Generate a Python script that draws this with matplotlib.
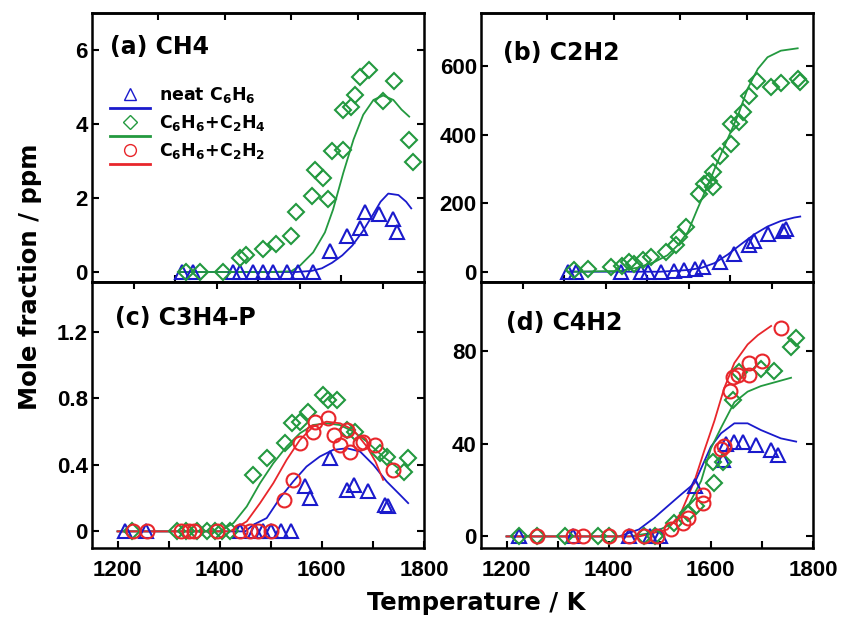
import matplotlib
matplotlib.use('Agg')
import matplotlib.pyplot as plt
from matplotlib.legend_handler import HandlerBase
from matplotlib.lines import Line2D

plt.rcParams['font.family'] = ['Liberation Sans', 'DejaVu Sans']
plt.rcParams['font.weight'] = 'bold'
plt.rcParams['mathtext.fontset'] = 'custom'
plt.rcParams['mathtext.rm'] = 'DejaVu Sans:bold'
plt.rcParams['mathtext.it'] = 'DejaVu Sans:bold'
plt.rcParams['mathtext.bf'] = 'DejaVu Sans:bold'
WIDE = ['DejaVu Sans']   # titles / legend / axis labels are a wide bold face

# ---- data (T in K, mole fraction in ppm) ----
# (a) CH4
a_neat_T = [1326, 1348, 1427, 1440, 1466, 1485, 1505, 1531, 1554, 1583, 1616, 1649, 1675, 1685, 1711, 1740, 1747]
a_neat_y = [0, 0, 0, 0, 0, 0, 0, 0, 0, 0, 0.57, 0.98, 1.2, 1.63, 1.56, 1.43, 1.07]
a_c2h4_T = [1335, 1361, 1406, 1440, 1452, 1485, 1510, 1540, 1549, 1580, 1587, 1602, 1613, 1619, 1642, 1642,
            1658, 1665, 1675, 1692, 1720, 1742, 1771, 1778]
a_c2h4_y = [0, 0, 0, 0.39, 0.46, 0.62, 0.77, 0.98, 1.61, 2.05, 2.76, 2.54, 1.96, 3.26, 3.31, 4.39,
            4.47, 4.79, 5.28, 5.46, 4.61, 5.17, 3.58, 2.97]
a_neat_mT = [1320, 1550, 1580, 1600, 1620, 1640, 1660, 1680, 1700, 1715, 1730, 1750, 1765, 1775]
a_neat_my = [0, 0, 0.03, 0.1, 0.25, 0.45, 0.72, 1.1, 1.55, 1.9, 2.12, 2.08, 1.9, 1.72]
a_c2h4_mT = [1320, 1500, 1540, 1557, 1583, 1606, 1622, 1642, 1662, 1681, 1701, 1720, 1740, 1756, 1771]
a_c2h4_my = [0, 0, 0.02, 0.17, 0.53, 1.07, 1.69, 2.68, 3.58, 4.25, 4.65, 4.77, 4.65, 4.39, 4.2]

# (b) C2H2
b_neat_T = [1320, 1336, 1424, 1463, 1476, 1502, 1528, 1548, 1568, 1584, 1617, 1646, 1675, 1685, 1711, 1741, 1747]
b_neat_y = [0, 0, 0, 0, 0, 0, 2, 4, 8, 13, 28, 52, 77, 91, 111, 120, 125]
b_c2h4_T = [1333, 1359, 1405, 1427, 1440, 1450, 1467, 1483, 1512, 1532, 1538, 1551, 1577, 1587, 1597, 1604,
            1604, 1618, 1640, 1640, 1656, 1662, 1675, 1690, 1718, 1737, 1770, 1775]
b_c2h4_y = [4, 9, 14, 18, 28, 23, 33, 43, 57, 77, 101, 130, 227, 256, 266, 247,
            290, 339, 373, 431, 436, 465, 514, 557, 538, 552, 562, 554]
b_neat_mT = [1320, 1500, 1555, 1581, 1607, 1633, 1659, 1685, 1711, 1737, 1763, 1775]
b_neat_my = [0, 0, 5, 11, 25, 50, 80, 109, 132, 148, 158, 161]
b_c2h4_mT = [1320, 1420, 1457, 1489, 1515, 1535, 1555, 1574, 1594, 1613, 1633, 1653, 1672, 1692, 1711, 1737, 1770]
b_c2h4_my = [0, 2, 12, 28, 48, 77, 116, 184, 252, 320, 388, 456, 534, 592, 626, 645, 652]

# (c) C3H4-P
c_neat_T = [1215, 1255, 1440, 1470, 1485, 1500, 1520, 1540, 1567, 1577, 1616, 1649, 1662, 1691, 1724, 1730]
c_neat_y = [0, 0, 0, 0, 0, 0, 0, 0, 0.27, 0.2, 0.44, 0.25, 0.28, 0.24, 0.16, 0.15]
c_c2h4_T = [1228, 1316, 1335, 1355, 1375, 1390, 1405, 1420, 1466, 1492, 1528, 1541, 1557, 1573,
            1603, 1613, 1629, 1649, 1665, 1714, 1727, 1760, 1769]
c_c2h4_y = [0, 0, 0, 0, 0, 0, 0, 0, 0.34, 0.44, 0.53, 0.65, 0.66, 0.72,
            0.82, 0.79, 0.79, 0.61, 0.6, 0.47, 0.45, 0.36, 0.44]
c_c2h2_T = [1230, 1257, 1325, 1340, 1350, 1395, 1440, 1460, 1475, 1500, 1525, 1544, 1557, 1583, 1587,
            1613, 1623, 1636, 1649, 1655, 1675, 1681, 1704, 1740]
c_c2h2_y = [0, 0, 0, 0, 0, 0, 0, 0, 0, 0, 0.19, 0.31, 0.53, 0.6, 0.66,
            0.68, 0.58, 0.52, 0.61, 0.48, 0.53, 0.54, 0.52, 0.37]
c_neat_mT = [1200, 1450, 1466, 1492, 1518, 1544, 1570, 1596, 1622, 1649, 1675, 1701, 1727, 1753, 1769]
c_neat_my = [0, 0, 0.04, 0.08, 0.2, 0.3, 0.39, 0.45, 0.49, 0.5, 0.48, 0.4, 0.3, 0.22, 0.17]
c_c2h4_mT = [1200, 1400, 1427, 1453, 1479, 1505, 1531, 1557, 1583, 1609, 1635, 1662, 1688, 1720, 1750]
c_c2h4_my = [0, 0, 0.05, 0.15, 0.29, 0.41, 0.51, 0.59, 0.64, 0.65, 0.64, 0.6, 0.54, 0.45, 0.38]
c_c2h2_mT = [1200, 1420, 1453, 1479, 1505, 1531, 1557, 1583, 1609, 1636, 1662, 1688, 1705, 1720]
c_c2h2_my = [0, 0, 0.06, 0.17, 0.29, 0.43, 0.55, 0.63, 0.66, 0.65, 0.61, 0.51, 0.42, 0.31]

# (d) C4H2
d_neat_T = [1225, 1330, 1440, 1480, 1500, 1568, 1623, 1630, 1646, 1662, 1688, 1718, 1731]
d_neat_y = [0, 0, 0, 0, 0, 21.6, 33, 40, 41, 41, 39.6, 37.4, 35]
d_c2h4_T = [1225, 1260, 1315, 1380, 1400, 1470, 1490, 1528, 1555, 1571, 1604, 1607, 1623, 1644, 1656,
            1698, 1724, 1757, 1767]
d_c2h4_y = [0, 0, 0, 0, 0, 0, 0, 6, 10, 13, 32, 23, 32, 59, 71, 72.6, 71.5, 82, 86]
d_c2h2_T = [1260, 1330, 1350, 1400, 1440, 1470, 1495, 1522, 1545, 1555, 1584, 1584, 1620, 1626, 1638,
            1643, 1653, 1675, 1675, 1701, 1737]
d_c2h2_y = [0, 0, 0, 0, 0, 0, 0, 3, 5.9, 8, 14.5, 18, 38, 39, 63, 69, 70, 75, 70, 76, 90]
d_neat_mT = [1200, 1420, 1459, 1489, 1515, 1541, 1568, 1600, 1620, 1646, 1672, 1698, 1737, 1767]
d_neat_my = [0, 0, 3, 8, 13, 18, 23, 38.8, 44.6, 48.9, 48.9, 46, 42.4, 41]
d_c2h4_mT = [1200, 1440, 1489, 1528, 1555, 1581, 1600, 1620, 1646, 1672, 1698, 1731, 1757]
d_c2h4_my = [0, 0, 1.7, 6, 13, 24, 38, 47, 58, 62.6, 65, 67, 68.6]
d_c2h2_mT = [1200, 1460, 1515, 1541, 1568, 1587, 1607, 1626, 1646, 1672, 1692, 1718]
d_c2h2_my = [0, 0, 3, 10, 24, 37, 50, 64, 75, 83, 87, 91]

panel_titles = ['(a) CH4', '(b) C2H2', '(c) C3H4-P', '(d) C4H2']
y_ticks = [[0, 2, 4, 6], [0, 200, 400, 600], [0, 0.4, 0.8, 1.2], [0, 40, 80]]
y_ticklabels = [['0', '2', '4', '6'], ['0', '200', '400', '600'], ['0', '0.4', '0.8', '1.2'], ['0', '40', '80']]
y_limits = [(-0.27, 7.0), (-30, 755), (-0.1, 1.5), (-5, 110)]
x_ticks = [1200, 1400, 1600, 1800]
x_minor = [1300, 1500, 1700]
series_labels = [r'neat C$_6$H$_6$', r'C$_6$H$_6$+C$_2$H$_4$', r'C$_6$H$_6$+C$_2$H$_2$']

BLUE = '#1a1acc'
GREEN = '#23993f'
RED = '#e8262b'
MK = dict(linestyle='none', mfc='none', mew=1.5)


class MarkerOverLine(HandlerBase):
    """Origin-style legend entry: symbol on the text row, line just below it"""
    def create_artists(self, legend, orig_handle, xdescent, ydescent, width, height, fontsize, trans):
        mk, ln = orig_handle
        cy = height / 2 - ydescent
        m = Line2D([width * 0.5 - xdescent], [cy], linestyle='none', marker=mk.get_marker(),
                   markersize=mk.get_markersize() * 0.85, mfc='none',
                   mec=mk.get_markeredgecolor(), mew=1.0, transform=trans)
        l = Line2D([-xdescent, width - xdescent], [cy - 0.8 * fontsize] * 2,
                   color=ln.get_color(), lw=2.0, transform=trans)
        return [m, l]


fig = plt.figure(figsize=(8.42, 6.22), dpi=100)
W = 332 / 842
boxes = [(92 / 842, 1 - 282 / 622, W, 269 / 622),
         (481 / 842, 1 - 282 / 622, W, 269 / 622),
         (92 / 842, 1 - 548 / 622, W, 266 / 622),
         (481 / 842, 1 - 548 / 622, W, 266 / 622)]
axes = [fig.add_axes(b) for b in boxes]
ax_a, ax_b, ax_c, ax_d = axes


def exp(ax, T, y, color, marker, ms):
    return ax.plot(T, y, marker=marker, mec=color, ms=ms, **MK)[0]


def model(ax, T, y, color):
    return ax.plot(T, y, color=color, lw=1.3)[0]


TRI, DIA, CIR = 10.5, 8.5, 10

la1 = model(ax_a, a_neat_mT, a_neat_my, BLUE)
la2 = model(ax_a, a_c2h4_mT, a_c2h4_my, GREEN)
ma1 = exp(ax_a, a_neat_T, a_neat_y, BLUE, '^', TRI)
ma2 = exp(ax_a, a_c2h4_T, a_c2h4_y, GREEN, 'D', DIA)
# red entry has no CH4 data; proxies only for the legend
ma3 = ax_a.plot([], [], marker='o', mec=RED, ms=CIR, **MK)[0]
la3 = ax_a.plot([], [], color=RED, lw=1.3)[0]

model(ax_b, b_neat_mT, b_neat_my, BLUE)
model(ax_b, b_c2h4_mT, b_c2h4_my, GREEN)
exp(ax_b, b_neat_T, b_neat_y, BLUE, '^', TRI)
exp(ax_b, b_c2h4_T, b_c2h4_y, GREEN, 'D', DIA)

model(ax_c, c_neat_mT, c_neat_my, BLUE)
model(ax_c, c_c2h4_mT, c_c2h4_my, GREEN)
model(ax_c, c_c2h2_mT, c_c2h2_my, RED)
exp(ax_c, c_neat_T, c_neat_y, BLUE, '^', TRI)
exp(ax_c, c_c2h4_T, c_c2h4_y, GREEN, 'D', DIA)
exp(ax_c, c_c2h2_T, c_c2h2_y, RED, 'o', CIR)

model(ax_d, d_neat_mT, d_neat_my, BLUE)
model(ax_d, d_c2h4_mT, d_c2h4_my, GREEN)
model(ax_d, d_c2h2_mT, d_c2h2_my, RED)
exp(ax_d, d_neat_T, d_neat_y, BLUE, '^', TRI)
exp(ax_d, d_c2h4_T, d_c2h4_y, GREEN, 'D', DIA)
exp(ax_d, d_c2h2_T, d_c2h2_y, RED, 'o', CIR)

to_frac = (lambda t: (t - 1150) / 650, lambda f: 1150 + 650 * f)
title_pos = [(0.054, 0.874), (0.066, 0.851), (0.07, 0.865), (0.075, 0.846)]

for i, ax in enumerate(axes):
    ax.set_xlim(1150, 1800)
    ax.set_ylim(*y_limits[i])
    ax.set_yticks(y_ticks[i])
    ax.set_yticklabels(y_ticklabels[i])
    for s in ax.spines.values():
        s.set_linewidth(1.8)
    ax.tick_params(which='both', direction='in', length=5, width=1.5, right=True, top=False,
                   labelsize=16, pad=3)
    ax.tick_params(axis='x', pad=9)
    sec = ax.secondary_xaxis('top', functions=to_frac)
    sec.tick_params(direction='in', length=5, width=1.5)
    if i < 2:
        sec.set_xticks([0.2, 0.4, 0.6, 0.8])
        ax.set_xticks([to_frac[1](f) for f in (0.25, 0.5, 0.75)])
        ax.tick_params(labelbottom=False)
    else:
        sec.set_xticks([0.125, 0.375, 0.625, 0.875])
        ax.set_xticks(x_ticks)
        ax.set_xticks(x_minor, minor=True)
        ax.set_xticklabels([str(t) for t in x_ticks])
    sec.set_xticklabels([])
    sec.spines['top'].set_linewidth(1.8)
    ax.text(title_pos[i][0], title_pos[i][1], panel_titles[i], transform=ax.transAxes,
            ha='left', va='center', fontsize=17, family=WIDE)

ax_a.legend([(ma1, la1), (ma2, la2), (ma3, la3)], series_labels,
            handler_map={tuple: MarkerOverLine()}, loc='upper left',
            bbox_to_anchor=(0.054, 0.731), frameon=False,
            prop={'family': WIDE, 'size': 12.5, 'weight': 'bold'},
            handlelength=2.3, handletextpad=0.5, labelspacing=0.45,
            borderpad=0, borderaxespad=0)

fig.text(0.036, 0.555, 'Mole fraction / ppm', rotation=90, ha='center', va='center',
         fontsize=17.5, family=WIDE)
fig.text(0.565, 0.03, 'Temperature / K', ha='center', va='center', fontsize=17.5, family=WIDE)

fig.savefig('out.png', dpi=100)
